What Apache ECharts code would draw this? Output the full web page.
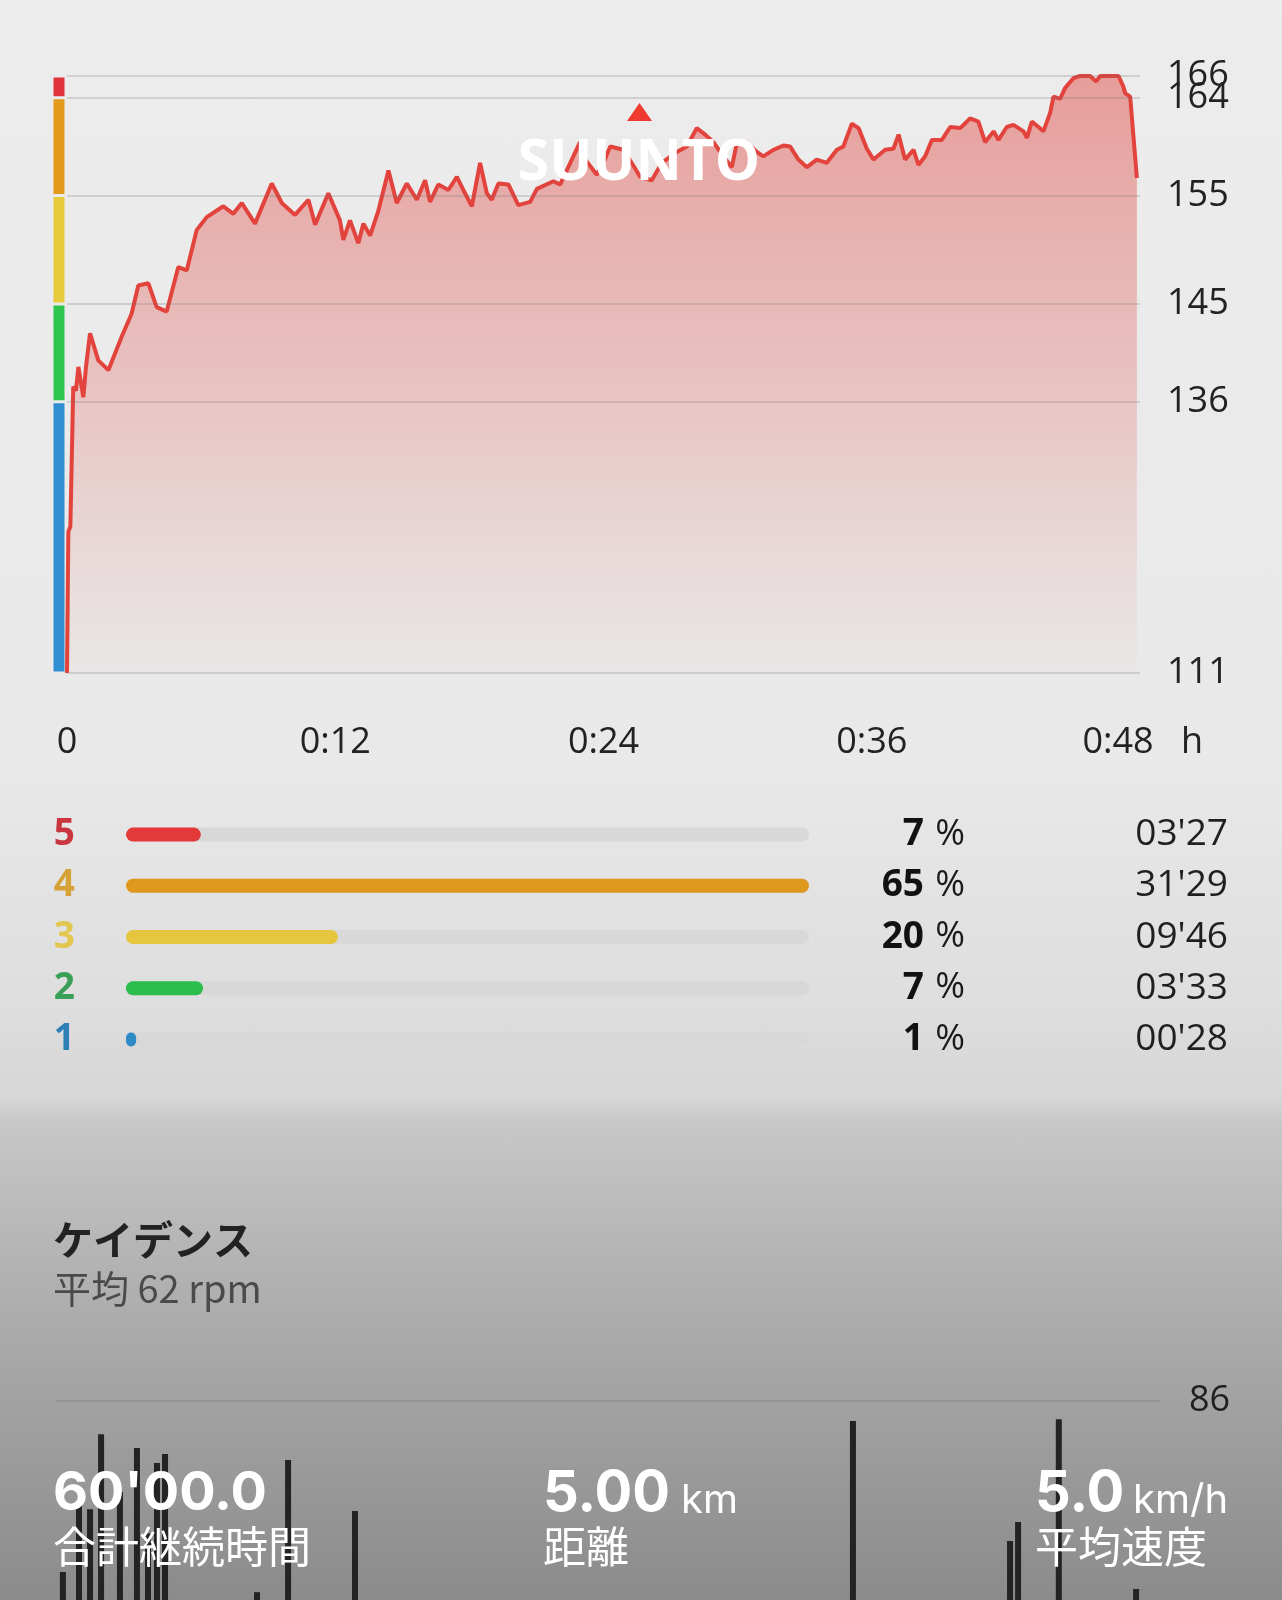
<!DOCTYPE html>
<html>
<head>
<meta charset="utf-8">
<script src="https://cdn.jsdelivr.net/npm/echarts@6/dist/echarts.min.js"></script>
<style>
  html, body { margin: 0; padding: 0; }
  body {
    width: 1282px; height: 1600px; overflow: hidden;
    background: linear-gradient(to bottom, #ececec 0px, #e9e9e9 760px, #dedede 1000px, #d6d6d6 1100px, #c8c8c8 1120px, #b6b6b6 1240px, #a2a2a2 1400px, #8b8b8b 1600px);
  }
  #chart { width: 1282px; height: 1600px; }
</style>
</head>
<body>
<div id="chart"></div>
<script>
// ---- Heart rate (minutes, bpm) ----
const hrTime = [0, 0.06, 0.15, 0.28, 0.4, 0.51, 0.73, 0.85, 1.03, 1.4, 1.85, 2.45, 2.89, 3.19, 3.64, 4.01, 4.46, 4.98, 5.36, 5.8,
  6.25, 6.99, 7.44, 7.82, 8.41, 9.16, 9.61, 10.2, 10.8, 11.1, 11.69, 12.21, 12.36, 12.66, 13.03, 13.26, 13.56, 13.93, 14.38, 14.75,
  15.2, 15.65, 16.02, 16.24, 16.61, 17.06, 17.44, 17.73, 18.11, 18.48, 18.78, 19.0, 19.3, 19.75, 20.19, 20.72, 21.02, 21.76, 22.06, 22.65,
  22.95, 23.18, 23.7, 24.0, 24.3, 24.89, 25.32, 25.64, 26.16, 26.61, 27.28, 27.73, 28.17, 28.55, 28.92, 29.36, 29.74, 29.96, 30.41, 30.86,
  31.15, 31.6, 32.05, 32.35, 32.72, 33.1, 33.54, 33.99, 34.44, 34.73, 35.11, 35.41, 35.78, 36.08, 36.6, 36.97, 37.2, 37.49, 37.87, 38.09,
  38.39, 38.69, 39.13, 39.51, 39.96, 40.4, 40.77, 41.07, 41.45, 41.67, 42.04, 42.34, 42.79, 42.94, 43.16, 43.46, 43.68, 43.98, 44.13, 44.43,
  44.65, 45.02, 45.32, 45.77, 46.04, 46.22, 47.04, 47.26, 47.34, 47.56, 47.86];
const hrValue = [111, 124, 124.5, 137.4, 137, 139.2, 136.4, 139.2, 142.3, 139.8, 138.9, 142, 144.1, 146.7, 146.9, 144.7, 144.3, 148.4, 148.1, 151.8,
  153, 154, 153.3, 154.3, 152.4, 156.1, 154.3, 153.2, 154.6, 152.3, 155.2, 152.7, 150.9, 152.7, 150.6, 152.4, 151.3, 153.6, 157.3, 154.3,
  156.1, 154.6, 156.4, 154.4, 156, 155.5, 156.7, 155.5, 154, 158, 155.2, 154.6, 156.1, 156, 154.1, 154.4, 155.6, 156.3, 156, 158.6,
  159.9, 158.3, 156.9, 158, 159.5, 159.2, 157.8, 156.7, 156.4, 158, 159, 159.5, 161.2, 160.6, 159.9, 158.6, 157.6, 159.8, 159.9, 159,
  158.6, 159.2, 159.6, 159.5, 158.3, 157.6, 158.3, 158, 159.2, 159.5, 161.6, 161.2, 159.3, 158.3, 159.2, 159.3, 160.6, 158.3, 159.2, 157.8,
  158.6, 160.1, 160.1, 161.3, 161.2, 162.1, 161.8, 159.9, 160.9, 160.1, 161.3, 161.5, 160.9, 160.3, 161.8, 161.3, 160.9, 162.6, 164.1, 163.9,
  164.9, 165.8, 166, 166, 165.5, 166, 166, 165, 164.4, 164.1, 156.6];

// ---- HR zone boundaries & axis ticks ----
const zoneBounds = [111, 136, 145, 155, 164, 166];
const zoneStripeColors = ['#2f8fd0', '#2ec44e', '#e8cb3b', '#e29a1c', '#e0323a']; // zone 1..5
const xTicks = [0, 12, 24, 36, 48];
const xTickLabels = ['0', '0:12', '0:24', '0:36', '0:48'];
const xUnit = 'h';

// ---- Zone summary (top row = zone 5) ----
const zoneNames = ['5', '4', '3', '2', '1'];
const zoneSeconds = [207, 1889, 586, 213, 28];
const zonePercent = ['7', '65', '20', '7', '1'];
const zoneTimes = ["03'27", "31'29", "09'46", "03'33", "00'28"];
const zoneBarColors = ['#e4393b', '#de991c', '#e6c63e', '#2dbd4c', '#2e8bc6'];
const zoneLabelColors = ['#c9363e', '#d6a137', '#e2c650', '#3a9f57', '#2c80b6'];

// ---- Cadence spikes (minutes, rpm) ----
const cadTime = [0.3, 1.0, 1.48, 1.96, 2.78, 3.52, 4.0, 4.39, 4.74, 8.74, 10.09, 13.0, 34.65, 41.48, 41.83, 43.6, 46.96];
const cadValue = [37, 57, 55, 76.5, 60, 72.5, 48, 68.2, 70.8, 31.2, 69.1, 54.5, 80.3, 45.9, 51.3, 80.8, 32.1];
const cadMax = 86;

// ---- Summary texts ----
const summaryValues = ["60'00.0", "5.00", "5.0"];
const summaryUnits = ["", "km", "km/h"];
const summaryNames = ["合計継続時間", "距離", "平均速度"];

const NUM_FONT = '"Open Sans", "Noto Sans", sans-serif';
const JP_FONT = '"Noto Sans CJK JP", "Noto Sans", sans-serif';

const hrData = hrTime.map((t, i) => [t, hrValue[i]]);
const cadData = cadTime.map((t, i) => [t, cadValue[i]]);
// the 164 label overlaps 166 in the original; draw it on its own axis so it is not dropped
const hrLabelsA = zoneBounds.filter((v, i) => i !== zoneBounds.length - 2);
const hrLabelsB = [zoneBounds[zoneBounds.length - 2]];
const hrMin = zoneBounds[0], hrMax = zoneBounds[zoneBounds.length - 1];

const stripeSeries = zoneStripeColors.map((c, i) => ({
  type: 'bar', xAxisIndex: 1, yAxisIndex: 1, stack: 'zones', barWidth: 14,
  data: [zoneBounds[i + 1] - zoneBounds[i]],
  itemStyle: { color: c, borderColor: '#ebebeb', borderWidth: 1.5 },
  silent: true, animation: false
}));

function hrYAxis(values) {
  return {
    type: 'value', gridIndex: 0, position: 'right', offset: 0, min: hrMin, max: hrMax,
    axisLine: { show: false }, axisTick: { show: false }, splitLine: { show: false },
    axisLabel: {
      customValues: values, margin: 27, fontSize: 36, color: '#222', fontFamily: NUM_FONT,
      hideOverlap: false, showMinLabel: true, showMaxLabel: true
    }
  };
}

const chart = echarts.init(document.getElementById('chart'), null, { renderer: 'canvas' });

const option = {
  backgroundColor: 'transparent',
  animation: false,
  grid: [
    { left: 67, top: 76, width: 1073, height: 597, containLabel: false, outerBoundsMode: 'none' },
    { left: 52, top: 76, width: 14, height: 597, containLabel: false, outerBoundsMode: 'none' },
    { left: 126, top: 809, width: 683, height: 256, containLabel: false, outerBoundsMode: 'none' },
    { left: 56, top: 1401, width: 1104, height: 300, containLabel: false, outerBoundsMode: 'none' }
  ],
  xAxis: [
    {
      type: 'value', gridIndex: 0, min: 0, max: 48, interval: 12,
      axisLine: { show: false }, axisTick: { show: false }, splitLine: { show: false },
      axisLabel: {
        margin: 52, fontSize: 36, color: '#222', fontFamily: NUM_FONT, showMinLabel: true, showMaxLabel: true,
        formatter: function (v) {
          const i = xTicks.indexOf(v);
          if (i < 0) return '';
          if (i === xTicks.length - 1) return '{last|' + xTickLabels[i] + '}';
          return xTickLabels[i];
        },
        rich: { last: { fontSize: 36, color: '#222', fontFamily: NUM_FONT, padding: [0, 44, 0, 0] } }
      }
    },
    { type: 'category', gridIndex: 1, data: ['z'], show: false },
    { type: 'value', gridIndex: 2, min: 0, max: Math.max.apply(null, zoneSeconds), show: false },
    { type: 'value', gridIndex: 3, min: 0, max: 48, show: false }
  ],
  yAxis: [
    hrYAxis(hrLabelsA),
    { type: 'value', gridIndex: 1, min: 0, max: hrMax - hrMin, show: false },
    {
      type: 'category', gridIndex: 2, data: zoneNames, inverse: true, position: 'left',
      axisLine: { show: false }, axisTick: { show: false }, splitLine: { show: false },
      axisLabel: {
        margin: 51, fontSize: 37, fontWeight: 'bold', fontFamily: NUM_FONT,
        formatter: function (v, i) { return '{z' + i + '|' + v + '}'; },
        rich: zoneLabelColors.reduce(function (acc, c, i) {
          acc['z' + i] = { color: c, fontSize: 37, fontWeight: 'bold', fontFamily: NUM_FONT };
          return acc;
        }, {})
      }
    },
    {
      type: 'category', gridIndex: 2, data: zoneNames, inverse: true, position: 'right',
      axisLine: { show: false }, axisTick: { show: false }, splitLine: { show: false },
      axisLabel: {
        margin: 10, fontSize: 36, color: '#1a1a1a', fontFamily: NUM_FONT,
        formatter: function (v, i) {
          return '{pn|' + zonePercent[i] + '}{pc|%}{t|' + zoneTimes[i] + '}';
        },
        rich: {
          pn: { width: 105, align: 'right', fontSize: 37, fontWeight: 'bold', color: '#111', fontFamily: NUM_FONT },
          pc: { width: 41, align: 'right', fontSize: 36, color: '#1a1a1a', fontFamily: NUM_FONT },
          t: { width: 263, align: 'right', fontSize: 37, color: '#1f1f1f', fontFamily: NUM_FONT }
        }
      }
    },
    {
      type: 'value', gridIndex: 3, position: 'right', min: 0, max: cadMax, interval: cadMax,
      axisLine: { show: false }, axisTick: { show: false },
      splitLine: { show: true, lineStyle: { color: 'rgba(0,0,0,0.07)', width: 2 } },
      axisLabel: {
        margin: 29, fontSize: 36, color: '#1f1f1f', fontFamily: NUM_FONT, showMaxLabel: true,
        formatter: function (v) { return v === cadMax ? String(v) : ''; }
      }
    },
    hrYAxis(hrLabelsB)
  ],
  series: [
    {
      type: 'line', xAxisIndex: 0, yAxisIndex: 0, data: hrData,
      showSymbol: false, symbol: 'none', clip: false, smooth: false,
      lineStyle: { color: '#e2433d', width: 4 },
      areaStyle: {
        origin: 'start',
        color: {
          type: 'linear', x: 0, y: 0, x2: 0, y2: 1,
          colorStops: [
            { offset: 0, color: 'rgba(226,92,86,0.78)' },
            { offset: 0.5, color: 'rgba(226,105,100,0.45)' },
            { offset: 1, color: 'rgba(226,120,115,0.03)' }
          ]
        }
      },
      markLine: {
        silent: true, symbol: ['none', 'none'], label: { show: false },
        lineStyle: { color: 'rgba(110,110,110,0.22)', width: 2, type: 'solid' },
        data: zoneBounds.map(function (v) { return { yAxis: v }; })
      },
      z: 3
    }
  ].concat(stripeSeries).concat([
    {
      type: 'bar', xAxisIndex: 2, yAxisIndex: 2, barWidth: 14,
      data: zoneSeconds.map(function (s, i) { return { value: s, itemStyle: { color: zoneBarColors[i] } }; }),
      showBackground: true, backgroundStyle: { color: '#d8d8d8', borderRadius: 7 },
      itemStyle: { borderRadius: 7 }, silent: true
    },
    {
      type: 'bar', xAxisIndex: 3, yAxisIndex: 4, barWidth: 6, data: cadData,
      itemStyle: { color: '#232323' }, silent: true
    }
  ]),
  graphic: [
    { type: 'text', x: 1181, y: 743, style: { text: xUnit, fill: '#222', font: '36px ' + NUM_FONT, textAlign: 'left', textVerticalAlign: 'middle' }, z: 100 },
    { type: 'polygon', shape: { points: [[627, 121], [652, 121], [639.5, 103]] }, style: { fill: '#f03a30' }, z: 100 },
    { type: 'text', x: 639, y: 164, style: { text: 'SUUNTO', fill: '#ffffff', font: 'bold 57px "Open Sans", sans-serif', textAlign: 'center', textVerticalAlign: 'middle' }, z: 100 },
    { type: 'text', x: 53, y: 1240, style: { text: 'ケイデンス', fill: '#222', font: 'bold 40px ' + JP_FONT, textAlign: 'left', textVerticalAlign: 'middle' }, z: 100 },
    { type: 'text', x: 53, y: 1289, style: { text: '平均 62 rpm', fill: '#4a4a4a', font: '38px ' + JP_FONT, textAlign: 'left', textVerticalAlign: 'middle' }, z: 100 },

    { type: 'text', x: 53, y: 1494, style: { text: summaryValues[0], fill: '#fff', font: 'bold 54px Inter, "Open Sans", sans-serif', textAlign: 'left', textVerticalAlign: 'middle' }, z: 100 },
    { type: 'text', x: 53, y: 1547, style: { text: summaryNames[0], fill: '#fff', font: '43px ' + JP_FONT, textAlign: 'left', textVerticalAlign: 'middle' }, z: 100 },

    { type: 'text', x: 543, y: 1494, style: { text: summaryValues[1], fill: '#fff', font: 'bold 56px Inter, "Open Sans", sans-serif', textAlign: 'left', textVerticalAlign: 'middle' }, z: 100 },
    { type: 'text', x: 681, y: 1501, style: { text: summaryUnits[1], fill: '#fff', font: '40px Inter, "Open Sans", sans-serif', textAlign: 'left', textVerticalAlign: 'middle' }, z: 100 },
    { type: 'text', x: 543, y: 1547, style: { text: summaryNames[1], fill: '#fff', font: '43px ' + JP_FONT, textAlign: 'left', textVerticalAlign: 'middle' }, z: 100 },

    { type: 'text', x: 1035, y: 1494, style: { text: summaryValues[2], fill: '#fff', font: 'bold 56px Inter, "Open Sans", sans-serif', textAlign: 'left', textVerticalAlign: 'middle' }, z: 100 },
    { type: 'text', x: 1133, y: 1501, style: { text: summaryUnits[2], fill: '#fff', font: '40px Inter, "Open Sans", sans-serif', textAlign: 'left', textVerticalAlign: 'middle' }, z: 100 },
    { type: 'text', x: 1035, y: 1547, style: { text: summaryNames[2], fill: '#fff', font: '43px ' + JP_FONT, textAlign: 'left', textVerticalAlign: 'middle' }, z: 100 }
  ]
};

chart.setOption(option);
</script>
</body>
</html>
